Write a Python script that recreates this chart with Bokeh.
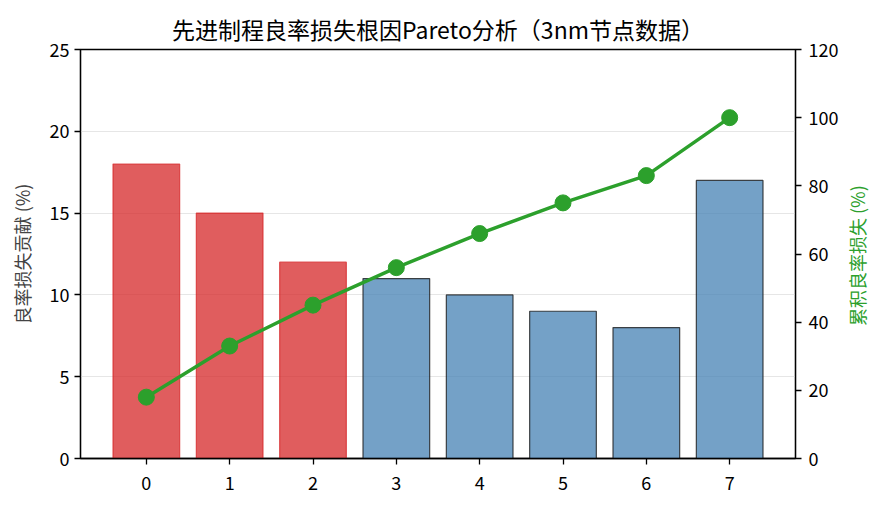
from bokeh.plotting import figure
from bokeh.models import Range1d, LinearAxis, FixedTicker, ColumnDataSource, Div
from bokeh.layouts import row
from bokeh.embed import file_html
from bokeh.resources import INLINE

categories = [0, 1, 2, 3, 4, 5, 6, 7]
loss = [18, 15, 12, 11, 10, 9, 8, 17]
cumulative = [18, 33, 45, 56, 66, 75, 83, 100]
left_ticks = [0, 5, 10, 15, 20, 25]
right_ticks = [0, 20, 40, 60, 80, 100, 120]

FONT = "Noto Sans CJK SC"

p = figure(width=852, height=494, output_backend="svg", toolbar_location=None,
           x_range=Range1d(-0.79, 7.79), y_range=Range1d(0, 25),
           min_border_left=80, min_border_right=57, min_border_top=49, min_border_bottom=36,
           title="先进制程良率损失根因Pareto分析（3nm节点数据）")
p.title.align = "center"
p.title.text_font = FONT
p.title.text_font_size = "23px"
p.title.text_font_style = "normal"
p.title.text_color = "black"
p.title.standoff = 8

p.extra_y_ranges = {"cum": Range1d(0, 120)}

red_idx = [i for i in range(3)]
blue_idx = [i for i in range(3, 8)]
src_red = ColumnDataSource(dict(x=[categories[i] for i in red_idx], top=[loss[i] for i in red_idx]))
src_blue = ColumnDataSource(dict(x=[categories[i] for i in blue_idx], top=[loss[i] for i in blue_idx]))

p.vbar(x="x", top="top", width=0.8, bottom=0, source=src_red,
       fill_color="#d62728", fill_alpha=0.75, line_color="#d62728", line_alpha=0.75, line_width=1.2)
p.vbar(x="x", top="top", width=0.8, bottom=0, source=src_blue,
       fill_color="steelblue", fill_alpha=0.75, line_color="#1a1a1a", line_alpha=0.8, line_width=1.2)

p.line(categories, cumulative, y_range_name="cum", line_color="#2ca02c", line_width=3.5)
p.scatter(categories, cumulative, y_range_name="cum", size=16, marker="circle",
          fill_color="#2ca02c", line_color="#2ca02c")

p.xgrid.visible = False
p.ygrid.grid_line_color = "#e6e6e6"
p.ygrid.grid_line_width = 1
p.ygrid.ticker = FixedTicker(ticks=left_ticks)

p.xaxis.ticker = FixedTicker(ticks=categories)
p.yaxis.ticker = FixedTicker(ticks=left_ticks)
p.yaxis.axis_label = "良率损失贡献 (%)"

ax_r = LinearAxis(y_range_name="cum", ticker=FixedTicker(ticks=right_ticks))
p.add_layout(ax_r, "right")

for ax in [p.xaxis[0], p.yaxis[0], ax_r]:
    ax.major_label_text_font = FONT
    ax.major_label_text_font_size = "18px"
    ax.major_label_text_color = "black"
    ax.axis_label_text_font = FONT
    ax.axis_label_text_font_size = "18px"
    ax.axis_label_text_font_style = "normal"
    ax.axis_line_color = "black"
    ax.axis_line_width = 1.3
    ax.major_tick_line_color = "black"
    ax.major_tick_line_width = 1.3
    ax.major_tick_in = 0
    ax.major_tick_out = 6
    ax.minor_tick_line_color = None
    ax.axis_label_standoff = 12
    ax.major_label_standoff = 5

p.xaxis[0].major_label_standoff = 11
ax_r.major_label_standoff = 7

p.outline_line_color = "black"
p.outline_line_width = 1.3
p.outline_line_alpha = 1

right_label = Div(text="累积良率损失 (%)", width=17, height=494,
                  styles={"writing-mode": "vertical-rl", "text-orientation": "sideways",
                          "transform": "rotate(180deg)", "text-align": "center",
                          "color": "#2ca02c", "font-family": FONT, "font-size": "18px",
                          "white-space": "nowrap", "padding-bottom": "8px",
                          "box-sizing": "border-box", "line-height": "17px",
                          "position": "relative", "left": "-8px"})

layout = row(p, right_label)

open("out.html", "w").write(file_html(layout, INLINE))
